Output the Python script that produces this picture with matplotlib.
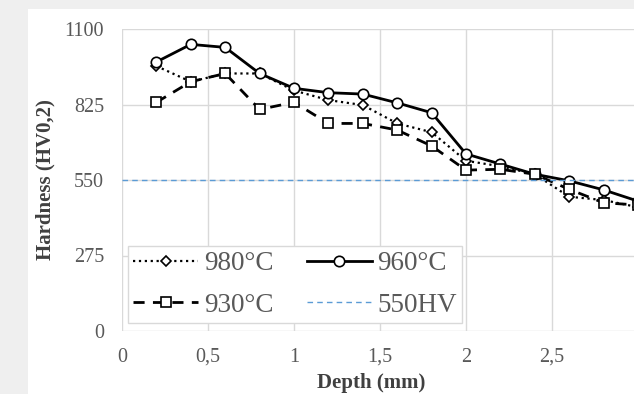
import matplotlib
matplotlib.use("Agg")
import matplotlib.pyplot as plt
from matplotlib.patches import Rectangle

depth = [0.2, 0.4, 0.6, 0.8, 1.0, 1.2, 1.4, 1.6, 1.8, 2.0, 2.2, 2.4, 2.6, 2.8, 3.0]
hv_980 = [965, 908, 938, 938, 876, 841, 823, 756, 724, 620, 600, 571, 489, 477, 451]
hv_960 = [980, 1044, 1033, 938, 884, 868, 863, 831, 795, 645, 608, 571, 547, 514, 473]
hv_930 = [833, 908, 938, 807, 833, 756, 756, 732, 674, 586, 589, 571, 516, 467, 459]
threshold = 550
xticks = [0, 0.5, 1, 1.5, 2, 2.5, 3]
xticklabels = ["0", "0,5", "1", "1,5", "2", "2,5", "3"]
yticks = [0, 275, 550, 825, 1100]

plt.rcParams['font.family'] = ['Liberation Serif', 'DejaVu Serif']

W, H = 634, 394
fig = plt.figure(figsize=(W / 100, H / 100), dpi=100, facecolor='#efefef')
bg = Rectangle((28 / W, 0), 1, (H - 9) / H, transform=fig.transFigure,
               facecolor='white', edgecolor='none', zorder=-10)
fig.add_artist(bg)

ax = fig.add_axes([122 / W, (H - 331) / H, (638 - 122) / W, 302 / H])
ax.set_zorder(1)
ax.set_facecolor('none')
ax.set_xlim(0, 3)
ax.set_ylim(0, 1100)
for s in ax.spines.values():
    s.set_visible(False)
ax.set_xticks(xticks)
ax.set_xticklabels(xticklabels)
ax.set_yticks(yticks)
ax.grid(True, color='#d9d9d9', lw=1)
ax.set_axisbelow(True)
ax.tick_params(length=0, labelsize=14.5, labelcolor='#595959')
ax.tick_params(axis='y', pad=13)
ax.tick_params(axis='x', pad=12)

l980, = ax.plot(depth, hv_980, ls=':', color='black', lw=1.6, marker='D', ms=5,
                mfc='white', mec='black', mew=1.2, label='980°C')
l960, = ax.plot(depth, hv_960, ls='-', color='black', lw=2, marker='o', ms=7.5,
                mfc='white', mec='black', mew=1.2, label='960°C')
l930, = ax.plot(depth, hv_930, ls=(0, (4, 3)), color='black', lw=2, marker='s', ms=7,
                mfc='white', mec='black', mew=1.2, label='930°C')
lthr = ax.axhline(threshold, color='#5b9bd5', lw=1, ls=(0, (4, 3)), label='550HV')

leg = ax.legend(handles=[l980, l930, l960, lthr], ncol=2, loc='lower left',
                bbox_to_anchor=((128 - 122) / 516, (331 - 323) / 302, (462 - 128) / 516, (323 - 242) / 302),
                mode='expand', fontsize=19.5, frameon=True, fancybox=False,
                edgecolor='#d9d9d9', framealpha=1, borderpad=0.2, handlelength=2.4,
                handletextpad=0.2, columnspacing=0.5, labelspacing=0.6, borderaxespad=0)
for t in leg.get_texts():
    t.set_color('#595959')
leg.get_frame().set_linewidth(1)

ax.set_ylabel('Hardness (HV0,2)', fontsize=15, fontweight='bold', color='#404040')
ax.set_xlabel('Depth (mm)', fontsize=15, fontweight='bold', color='#404040')
ax.xaxis.set_label_coords((371 - 122) / 516, -(373 - 331) / 302)
ax.yaxis.set_label_coords(-(122 - 55) / 516, 0.5)

fig.savefig('out.png', dpi=100, facecolor=fig.get_facecolor())
